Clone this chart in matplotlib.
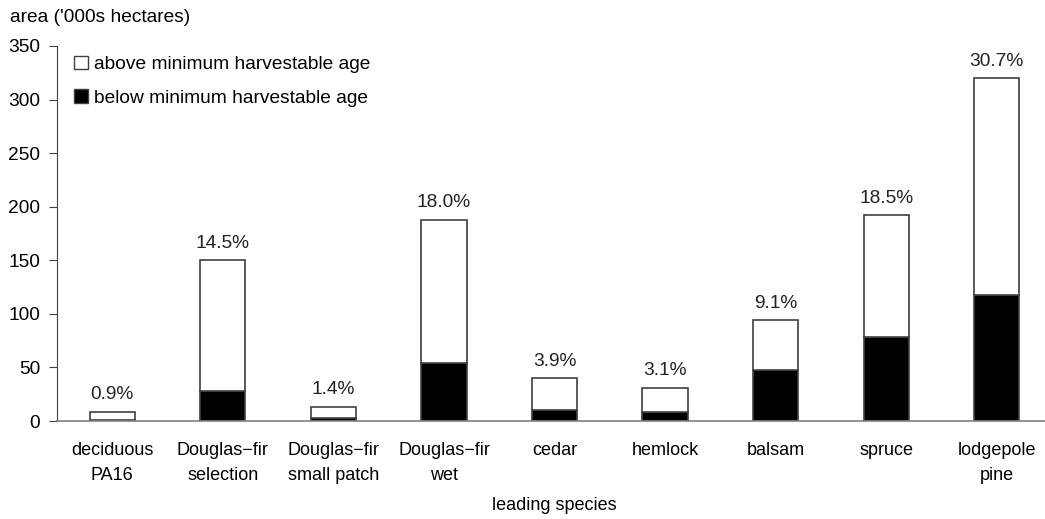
import matplotlib
matplotlib.use('Agg')
import matplotlib.pyplot as plt
from matplotlib.patches import Patch

plt.rcParams['font.family'] = ['Liberation Sans', 'DejaVu Sans']

species = ['deciduous\nPA16', 'Douglas\u2212fir\nselection', 'Douglas\u2212fir\nsmall patch',
           'Douglas\u2212fir\nwet', 'cedar', 'hemlock', 'balsam', 'spruce', 'lodgepole\npine']
below = [0.5, 28, 2.5, 54, 10, 8, 48, 78, 118]
total = [8.5, 150, 13, 188, 40, 31, 94, 192, 320]
pct = ['0.9%', '14.5%', '1.4%', '18.0%', '3.9%', '3.1%', '9.1%', '18.5%', '30.7%']

FS = 13.8


def main() -> None:
    fig = plt.figure(figsize=(10.45, 5.19), dpi=100)
    ax = fig.add_axes([57 / 1045, 1 - 421 / 519, (1052 - 57) / 1045, (421 - 46) / 519])

    x = list(range(len(species)))
    above = [t - b for t, b in zip(total, below)]
    w = 0.41
    ax.bar(x, below, width=w, color='black', edgecolor='#404040', linewidth=1.2)
    ax.bar(x, above, bottom=below, width=w, color='white', edgecolor='#404040', linewidth=1.2)

    for xi, t, p in zip(x, total, pct):
        ax.text(xi, t + 8, p, ha='center', va='bottom', fontsize=FS, color='#222222')

    ax.set_xlim(-0.5, 8.5)
    ax.set_ylim(0, 350)
    ax.set_yticks(range(0, 351, 50))
    ax.set_xticks(x)
    ax.set_xticklabels(species, fontsize=13, linespacing=1.65)
    ax.tick_params(axis='x', length=0, pad=15)
    ax.tick_params(axis='y', direction='out', length=6, labelsize=FS, color='#404040', pad=6)
    for s in ['top', 'right']:
        ax.spines[s].set_visible(False)
    ax.spines['left'].set_color('#404040')
    ax.spines['bottom'].set_color('#808080')
    ax.spines['bottom'].set_linewidth(1.2)

    ax.set_xlabel('leading species', fontsize=13, labelpad=9)
    fig.text(10 / 1045, 1 - 18 / 519, "area ('000s hectares)", fontsize=FS, va='center')

    handles = [Patch(facecolor='white', edgecolor='#404040'), Patch(facecolor='black', edgecolor='#404040')]
    ax.legend(handles, ['above minimum harvestable age', 'below minimum harvestable age'],
              loc='upper left', bbox_to_anchor=(0.0, 1.02), frameon=False, fontsize=FS,
              handlelength=0.7, handleheight=0.7, handletextpad=0.35, labelspacing=0.85)

    fig.savefig('out.png', dpi=100)


if __name__ == '__main__':
    main()
